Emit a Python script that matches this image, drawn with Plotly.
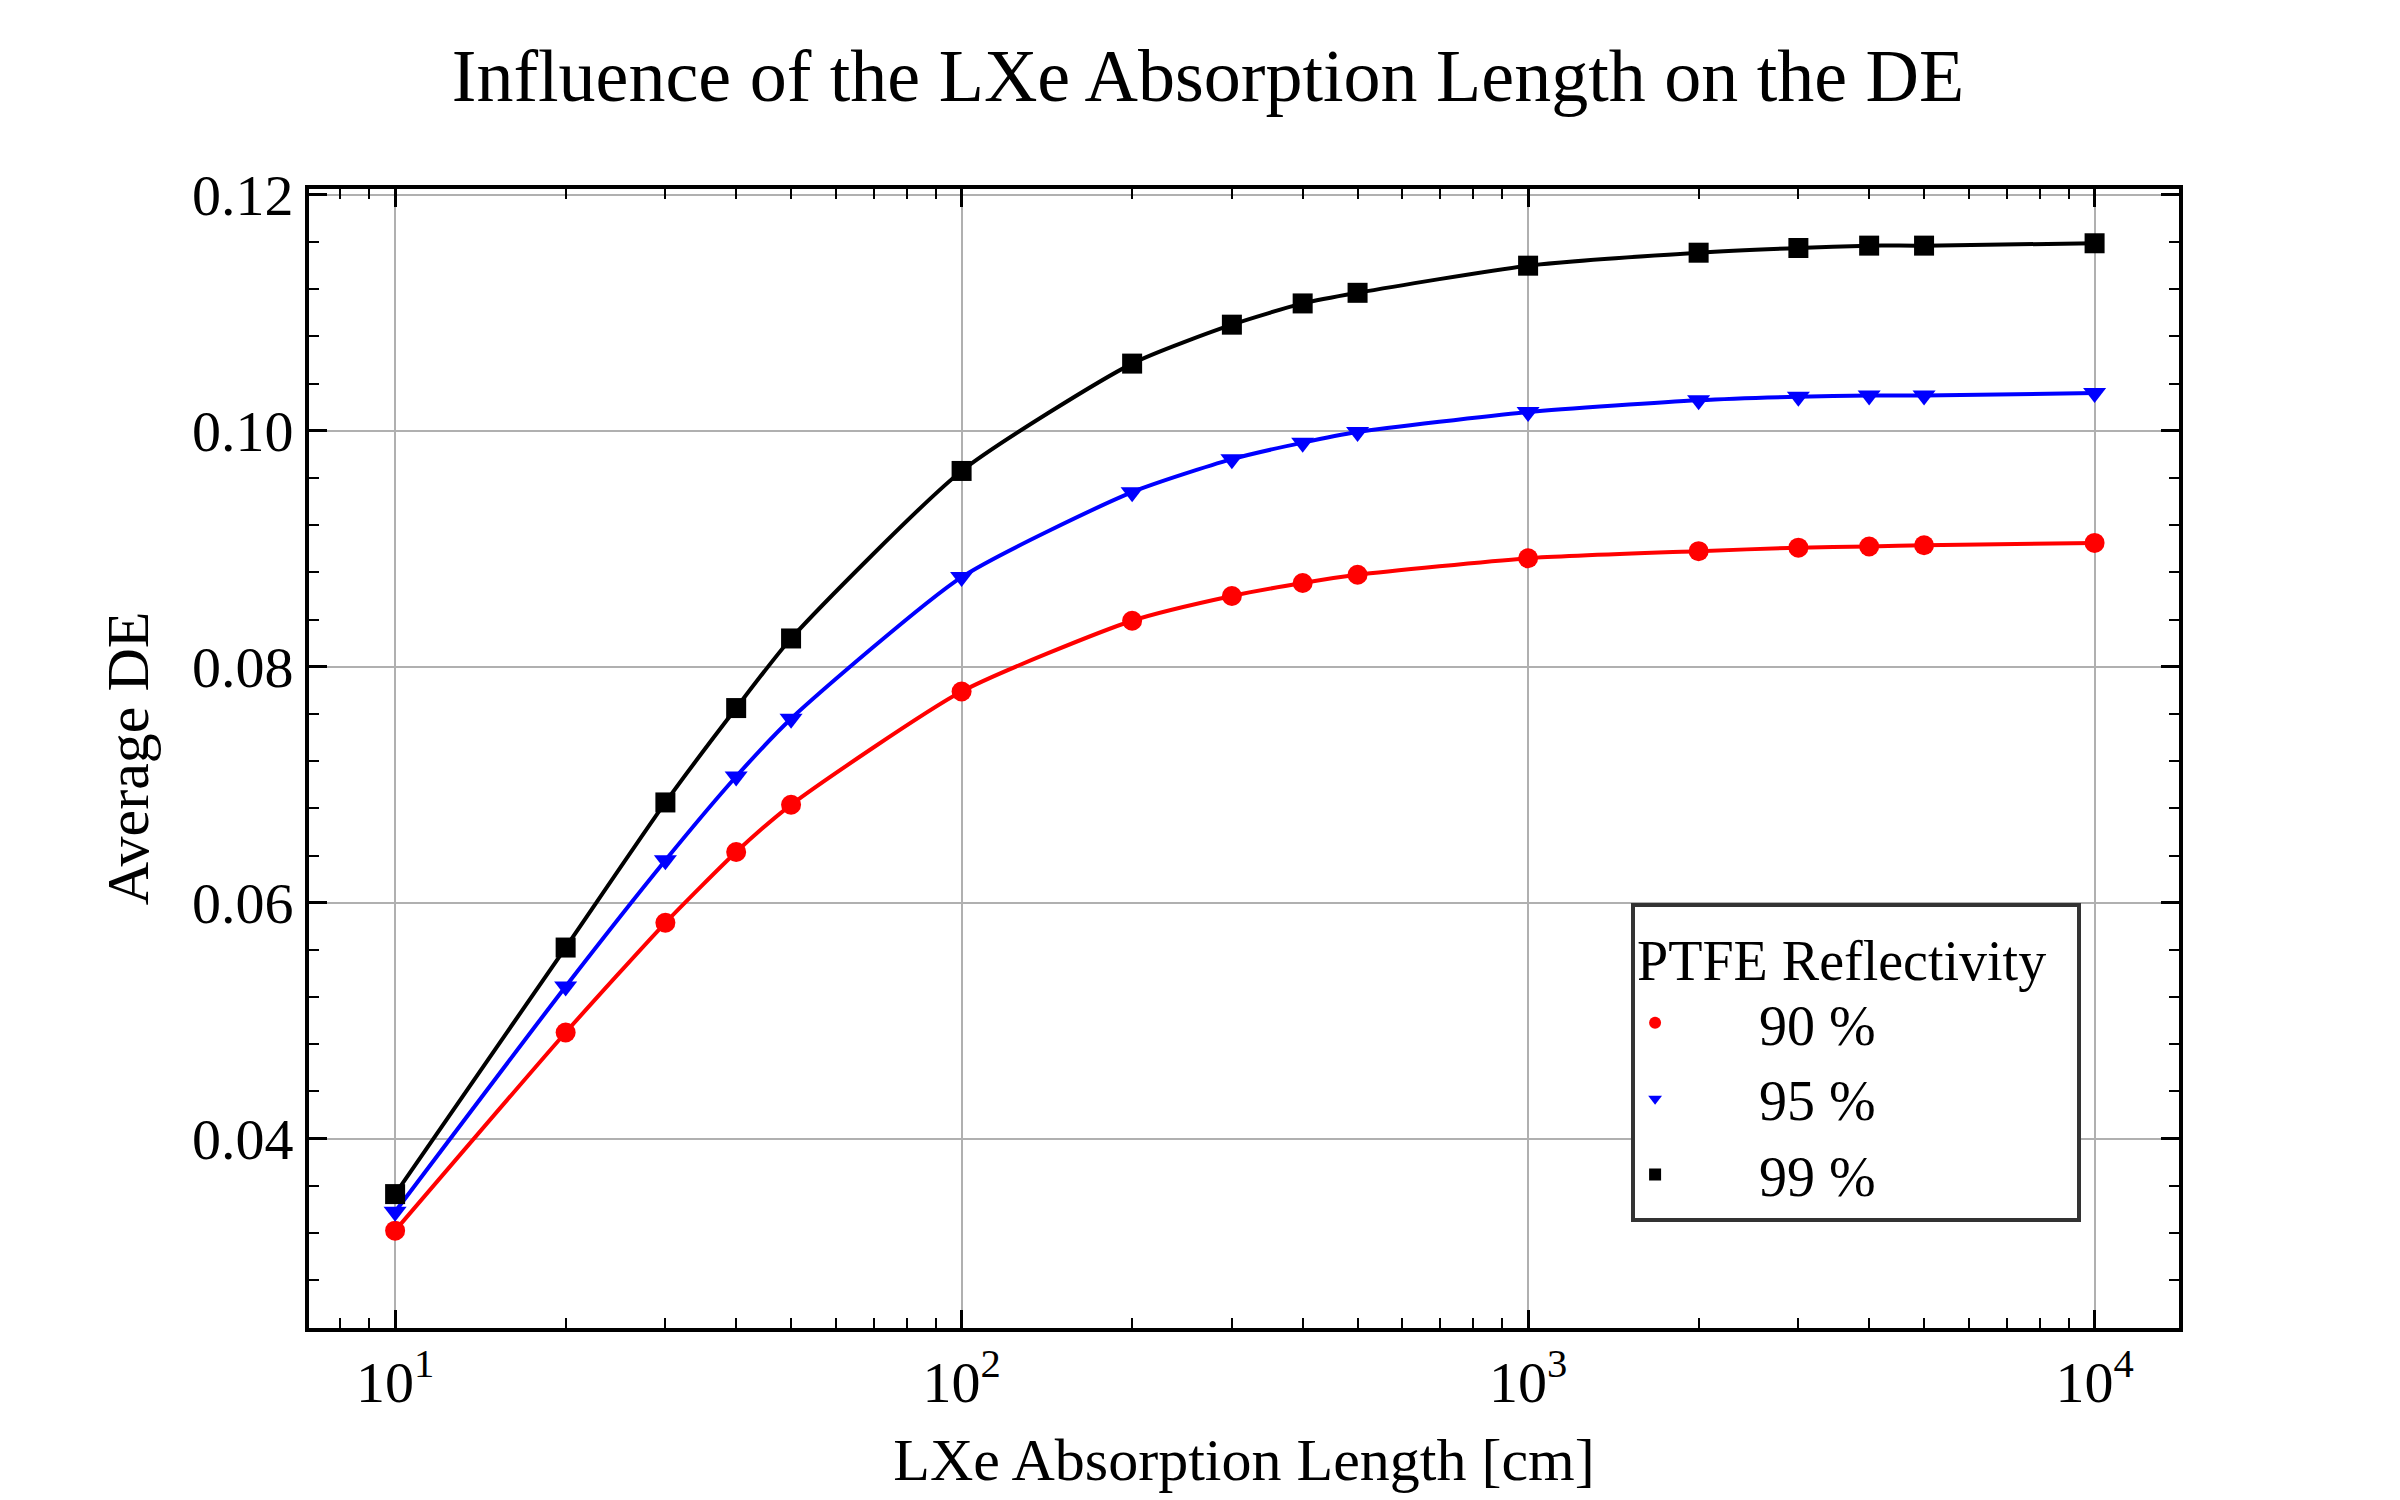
import plotly.graph_objects as go

length_cm = [10, 20, 30, 40, 50, 100, 200, 300, 400, 500, 1000, 2000, 3000, 4000, 5000, 10000]
de_90 = [0.0322, 0.0490, 0.0583, 0.0643, 0.0683, 0.0779, 0.0839, 0.0860, 0.0871, 0.0878,
         0.0892, 0.0898, 0.0901, 0.0902, 0.0903, 0.0905]
de_95 = [0.0338, 0.0529, 0.0636, 0.0707, 0.0756, 0.0876, 0.0948, 0.0976, 0.0990, 0.0999,
         0.1016, 0.1026, 0.1029, 0.1030, 0.1030, 0.1032]
de_99 = [0.0353, 0.0562, 0.0685, 0.0765, 0.0824, 0.0966, 0.1057, 0.1090, 0.1108, 0.1117,
         0.1140, 0.1151, 0.1155, 0.1157, 0.1157, 0.1159]

series = [
    ("90 %", de_90, "#ff0000", "circle"),
    ("95 %", de_95, "#0000ff", "triangle-down"),
    ("99 %", de_99, "#000000", "square"),
]

minor_x = [m * 10 ** e for e in range(0, 5) for m in range(2, 10)]

font = "Liberation Serif"
fig = go.Figure()
for name, vals, color, sym in series:
    fig.add_trace(go.Scatter(x=length_cm, y=vals, mode="lines", line=dict(color=color, width=4, shape="spline", smoothing=0.6),
                             showlegend=False, hoverinfo="skip"))
for name, vals, color, sym in series:
    fig.add_trace(go.Scatter(x=length_cm, y=vals, mode="markers", name="      " + name,
                             marker=dict(color=color, symbol=sym, size=20)))

axis_common = dict(
    showline=True, linecolor="black", linewidth=4, mirror="ticks",
    ticks="inside", ticklen=18, tickwidth=2.5, tickcolor="black",
    showgrid=True, gridcolor="#b0b0b0", gridwidth=1.5, zeroline=False,
    tickfont=dict(size=58, family=font, color="black"),
)

fig.update_xaxes(type="log", range=[0.848, 4.149], tickvals=[10, 100, 1000, 10000],
                 ticktext=["10<sup>1</sup>", "10<sup>2</sup>", "10<sup>3</sup>", "10<sup>4</sup>"],
                 minor=dict(ticks="inside", ticklen=10, tickwidth=2, tickcolor="black", showgrid=False, tickvals=minor_x),
                 title=dict(text="LXe Absorption Length [cm]", font=dict(size=60, family=font, color="black"), standoff=25),
                 **axis_common)
fig.update_yaxes(range=[0.02395, 0.1205], tickvals=[0.04, 0.06, 0.08, 0.10, 0.12],
                 ticktext=["0.04", "0.06", "0.08", "0.10", "0.12"],
                 minor=dict(ticks="inside", ticklen=10, tickwidth=2, tickcolor="black", dtick=0.004, showgrid=False),
                 title=dict(text="Average DE", font=dict(size=60, family=font, color="black"), standoff=25),
                 **axis_common)

fig.update_layout(
    width=2400, height=1500,
    margin=dict(l=301, r=229, t=181, b=180),
    plot_bgcolor="white", paper_bgcolor="white",
    font=dict(family=font, color="black"),
    title=dict(text="Influence of the LXe Absorption Length on the DE", x=0.5, xanchor="center",
               y=0.955, yanchor="middle", font=dict(size=74, family=font, color="black")),
    legend=dict(x=0.707, y=0.373, xanchor="left", yanchor="top",
                bordercolor="#333333", borderwidth=4, bgcolor="white",
                title=dict(text="PTFE Reflectivity  ", font=dict(size=56, family=font)),
                font=dict(size=56, family=font), itemsizing="constant", tracegroupgap=20),
)

fig.write_html("out.html")
